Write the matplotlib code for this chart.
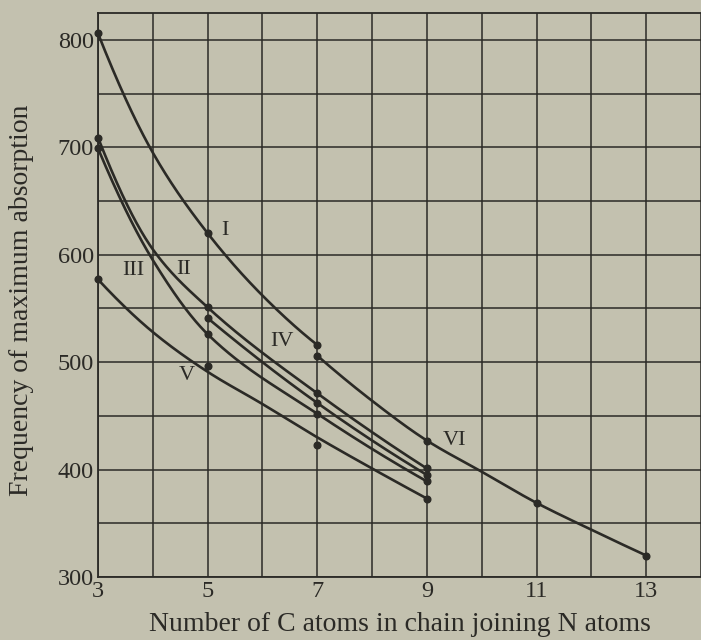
import numpy as np
import matplotlib.pyplot as plt

# carbon atoms in the chain (x) and frequency of max absorption (y)
# *_pts: the plotted dots, *_crv: values
x_I = [3, 5, 7]
y_I_pts = [806, 620, 516]
xc_I = [3, 4, 5, 6, 7]
y_I_crv = [806, 695, 620, 562, 516]

x_II = [3, 5, 7, 9]
y_II_pts = [709, 551, 471, 401]
xc_II = [3, 4, 5, 7, 9]
y_II_crv = [709, 605, 551, 471, 401]

x_III = [3, 5, 7, 9]
y_III_pts = [699, 526, 452, 389]
xc_III = [3, 4, 5, 7, 9]
y_III_crv = [699, 595, 526, 452, 389]

x_IV = [5, 7, 9]
y_IV_pts = [541, 462, 395]
xc_IV = [5, 7, 9]
y_IV_crv = [541, 462, 395]

x_V = [3, 5, 7, 9]
y_V_pts = [577, 496, 423, 373]
xc_V = [3, 4, 5, 6, 7, 8, 9]
y_V_crv = [577, 528, 491, 461, 430, 401, 373]

x_VI = [7, 9, 11, 13]
y_VI_pts = [506, 427, 369, 320]
xc_VI = [7, 8, 9, 10, 11, 12, 13]
y_VI_crv = [506, 464, 427, 398, 369, 344, 320]

labels = ['I', 'II', 'III', 'IV', 'V', 'VI']
label_x = [5.31, 4.57, 3.65, 6.35, 4.62, 9.5]
label_y = [623, 586, 585, 519, 488, 427]

x_ticks = [3, 5, 7, 9, 11, 13]
y_ticks = [300, 400, 500, 600, 700, 800]

bg = '#c3c1af'
ink = '#2b2a26'

plt.rcParams['font.family'] = ['Liberation Serif', 'DejaVu Serif']


def pchip(xs, ys, n=300):
    # monotone cubic hermite through the read values (Fritsch-Carlson)
    x = np.asarray(xs, dtype=float)
    y = np.asarray(ys, dtype=float)
    h = np.diff(x)
    d = np.diff(y) / h
    m = np.zeros_like(y)
    for k in range(1, len(x) - 1):
        if d[k - 1] * d[k] > 0:
            w1 = 2 * h[k] + h[k - 1]
            w2 = h[k] + 2 * h[k - 1]
            m[k] = (w1 + w2) / (w1 / d[k - 1] + w2 / d[k])
    if len(x) > 2:
        m[0] = ((2 * h[0] + h[1]) * d[0] - h[0] * d[1]) / (h[0] + h[1])
        if np.sign(m[0]) != np.sign(d[0]):
            m[0] = 0
        elif np.sign(d[0]) != np.sign(d[1]) and abs(m[0]) > abs(3 * d[0]):
            m[0] = 3 * d[0]
        m[-1] = ((2 * h[-1] + h[-2]) * d[-1] - h[-1] * d[-2]) / (h[-1] + h[-2])
        if np.sign(m[-1]) != np.sign(d[-1]):
            m[-1] = 0
        elif np.sign(d[-1]) != np.sign(d[-2]) and abs(m[-1]) > abs(3 * d[-1]):
            m[-1] = 3 * d[-1]
    else:
        m[:] = d[0]
    xx = np.linspace(x[0], x[-1], n)
    i = np.clip(np.searchsorted(x, xx) - 1, 0, len(x) - 2)
    t = (xx - x[i]) / h[i]
    h00 = 2 * t**3 - 3 * t**2 + 1
    h10 = t**3 - 2 * t**2 + t
    h01 = -2 * t**3 + 3 * t**2
    h11 = t**3 - t**2
    yy = h00 * y[i] + h10 * h[i] * m[i] + h01 * y[i + 1] + h11 * h[i] * m[i + 1]
    return xx, yy


fig = plt.figure(figsize=(7.01, 6.40), dpi=100, facecolor=bg)
ax = fig.add_axes([98 / 701, 1 - 577 / 640, 1 - 98 / 701, (577 - 13) / 640])
ax.set_facecolor(bg)

series = [
    (xc_I, y_I_crv, x_I, y_I_pts),
    (xc_II, y_II_crv, x_II, y_II_pts),
    (xc_III, y_III_crv, x_III, y_III_pts),
    (xc_IV, y_IV_crv, x_IV, y_IV_pts),
    (xc_V, y_V_crv, x_V, y_V_pts),
    (xc_VI, y_VI_crv, x_VI, y_VI_pts),
]
for xc, yc, xp, yp in series:
    xx, yy = pchip(xc, yc)
    ax.plot(xx, yy, color=ink, lw=1.9, zorder=3, solid_capstyle='round')
    ax.plot(xp, yp, 'o', color=ink, ms=4.8, zorder=4, clip_on=False)

for t, lx, ly in zip(labels, label_x, label_y):
    ax.text(lx, ly, t, ha='center', va='center', fontsize=16, color=ink)

ax.set_xlim(3, 14)
ax.set_ylim(300, 825)
# grid every unit / every 50, labels only on odd numbers and hundreds
ax.set_xticks(np.arange(3, 15, 1), minor=True)
ax.set_yticks(np.arange(300, 826, 50), minor=True)
ax.set_xticks(x_ticks)
ax.set_yticks(y_ticks)
ax.tick_params(which='both', length=0, labelsize=17.5, colors=ink, pad=3)
ax.grid(True, which='both', color=ink, lw=1.1)
for s in ax.spines.values():
    s.set_color(ink)
    s.set_linewidth(1.3)
ax.spines['right'].set_visible(False)

ax.set_xlabel('Number of C atoms in chain joining N atoms', fontsize=20, color=ink, va='center')
ax.xaxis.set_label_coords(0.5, -0.085)
ax.set_ylabel('Frequency of maximum absorption', fontsize=20, color=ink, va='center')
ax.yaxis.set_label_coords(-0.127, 0.49)

fig.savefig('out.png', dpi=100, facecolor=bg)
